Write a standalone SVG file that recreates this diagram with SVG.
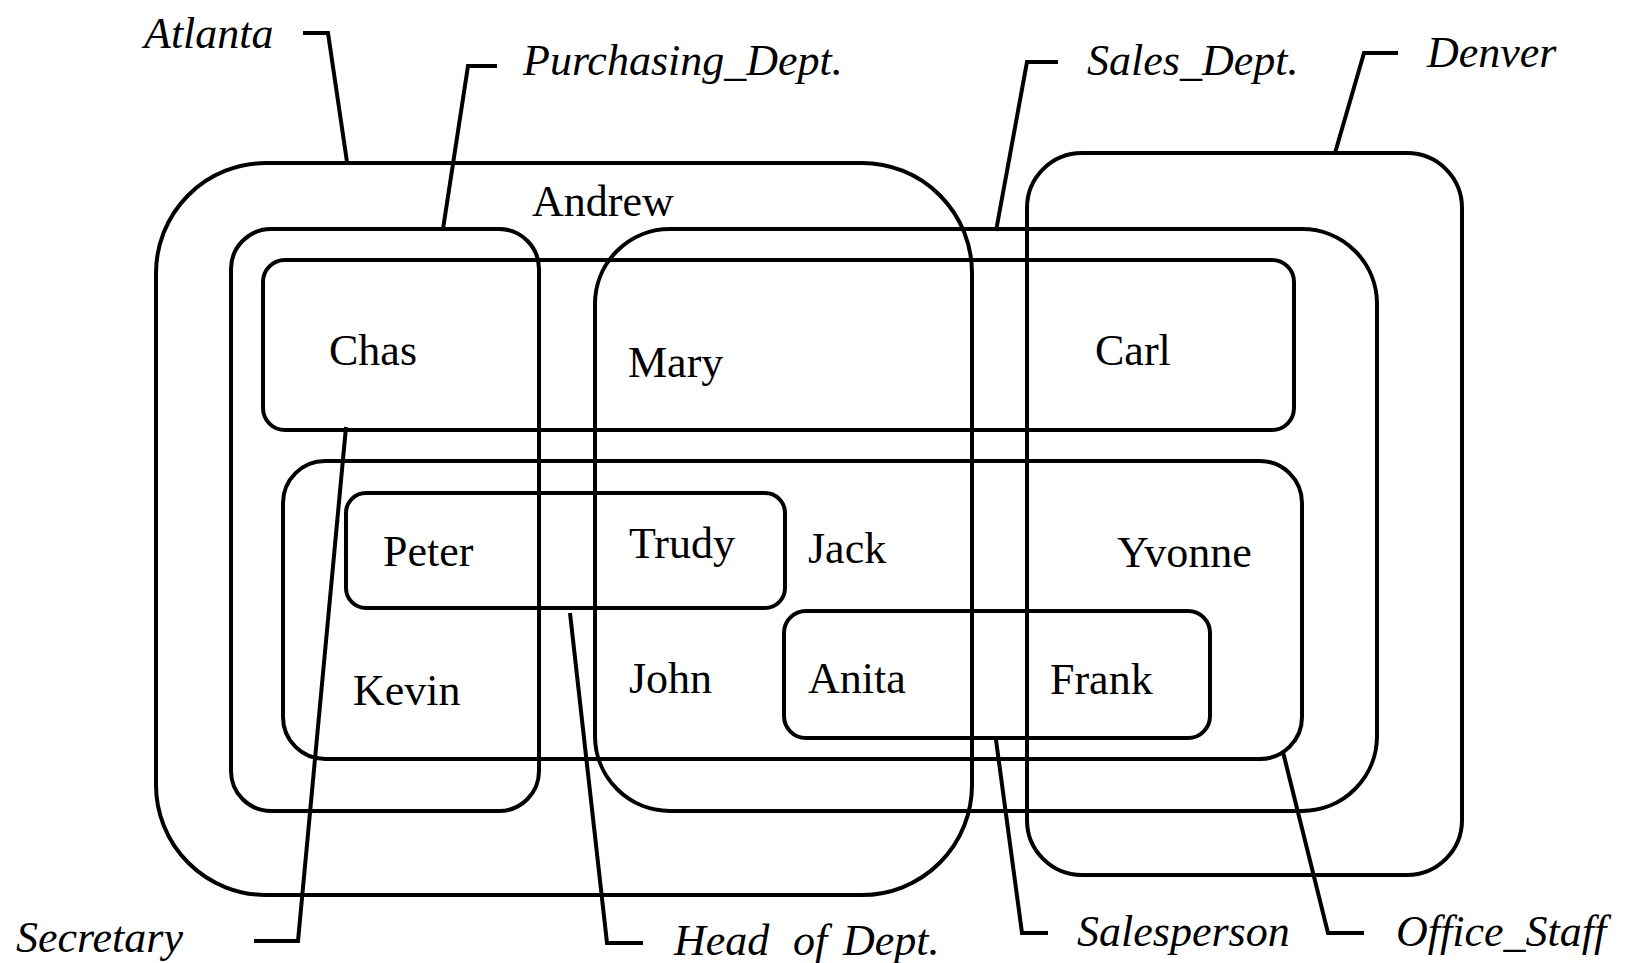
<svg xmlns="http://www.w3.org/2000/svg" width="1630" height="963" viewBox="0 0 1630 963">
<style>
.box{fill:none;stroke:#000;stroke-width:4;stroke-linejoin:round}
.lead{fill:none;stroke:#000;stroke-width:4;stroke-linejoin:miter}
.set{font-family:"Liberation Serif","Times New Roman",serif;font-style:italic;font-size:44px;fill:#000}
.name{font-family:"Liberation Serif","Times New Roman",serif;font-size:44px;fill:#000}
</style>
<rect width="1630" height="963" fill="#fff"/>
<g id="Atlanta"><rect class="box" x="156" y="163" width="816" height="732" rx="110"/><text class="set" x="144" y="48">Atlanta</text></g>
<g id="Purchasing_Dept"><rect class="box" x="231" y="229" width="308" height="582" rx="40"/><text class="set" x="523" y="75">Purchasing_Dept.</text></g>
<g id="Sales_Dept"><rect class="box" x="595" y="229" width="782" height="582" rx="75"/><text class="set" x="1087" y="75">Sales_Dept.</text></g>
<g id="Denver"><rect class="box" x="1027" y="153" width="435" height="722" rx="55"/><text class="set" x="1427" y="67">Denver</text></g>
<g id="Secretary"><rect class="box" x="263" y="260" width="1031" height="170" rx="22"/><text class="set" x="16" y="952">Secretary</text></g>
<g id="Office_Staff"><rect class="box" x="283" y="461" width="1019" height="298" rx="42"/><text class="set" x="1396" y="946">Office_Staff</text></g>
<g id="Head_of_Dept"><rect class="box" x="346" y="493" width="439" height="115" rx="20"/><text class="set" y="955"><tspan x="674">Head</tspan><tspan x="793">of</tspan><tspan x="843">Dept.</tspan></text></g>
<g id="Salesperson"><rect class="box" x="784" y="611" width="426" height="127" rx="22"/><text class="set" x="1077" y="946">Salesperson</text></g>
<g id="connectors">
<polyline class="lead" points="303,33 328,33 347,162"/>
<polyline class="lead" points="497,66 468,66 443,229"/>
<polyline class="lead" points="1058,62 1027,62 996,231"/>
<polyline class="lead" points="1398,53 1364,53 1335,153"/>
<polyline class="lead" points="346,427 298,941 254,941"/>
<polyline class="lead" points="570,613 607,943 643,943"/>
<polyline class="lead" points="996,740 1022,933 1048,933"/>
<polyline class="lead" points="1283,752 1328,933 1364,933"/>
</g>
<g id="Andrew"><text class="name" x="532" y="216">Andrew</text></g>
<g id="Chas"><text class="name" x="329" y="365">Chas</text></g>
<g id="Mary"><text class="name" x="628" y="377">Mary</text></g>
<g id="Carl"><text class="name" x="1095" y="365">Carl</text></g>
<g id="Peter"><text class="name" x="383" y="566">Peter</text></g>
<g id="Trudy"><text class="name" x="629" y="558">Trudy</text></g>
<g id="Jack"><text class="name" x="808" y="563">Jack</text></g>
<g id="Yvonne"><text class="name" x="1117" y="567">Yvonne</text></g>
<g id="Kevin"><text class="name" x="353" y="705">Kevin</text></g>
<g id="John"><text class="name" x="629" y="693">John</text></g>
<g id="Anita"><text class="name" x="808" y="693">Anita</text></g>
<g id="Frank"><text class="name" x="1050" y="694">Frank</text></g>
</svg>
